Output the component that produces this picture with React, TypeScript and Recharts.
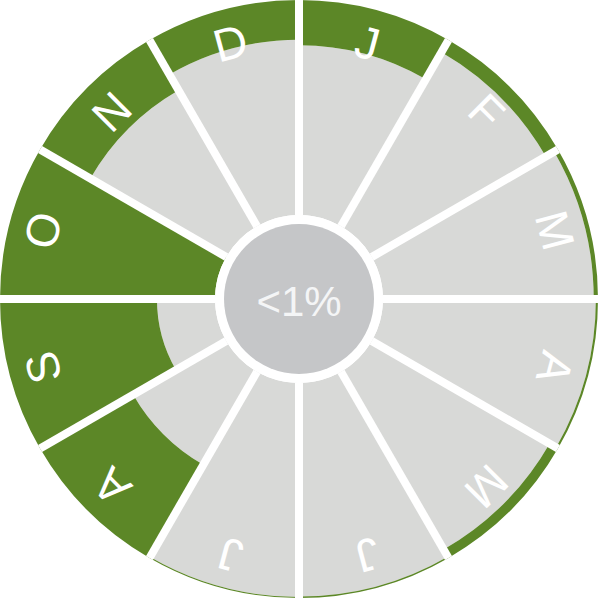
/**
 * Monthly radial chart — green depth per month on a grey wheel.
 */
import React from 'react';
import {
    RadialBarChart, RadialBar, PolarAngleAxis, PolarRadiusAxis, PolarGrid, LabelList,
} from 'recharts';

const monthKeys = ['Jan', 'Feb', 'Mar', 'Apr', 'May', 'Jun', 'Jul', 'Aug', 'Sep', 'Oct', 'Nov', 'Dec'];
const monthLabels = ['J', 'F', 'M', 'A', 'M', 'J', 'J', 'A', 'S', 'O', 'N', 'D'];
const greenShare = [21, 6.5, 2, 1, 4.5, 0.7, 0.5, 50, 73, 100, 27, 18.5];
const centerText = '<1%';

const data = monthKeys.map((key, i) => ({
    key,
    label: monthLabels[i],
    green: greenShare[i],
    rest: 100 - greenShare[i],
}));

const CX = 299;
const CY = 299;
const INNER = 84;
const OUTER = 299;
const RAD = Math.PI / 180;
const FONT = '"Liberation Sans", Arial, sans-serif';

// sector boundaries in polar degrees, clockwise from 12 o'clock
const boundaries = monthKeys.map((_, i) => 90 - i * 30);

const renderLabel = (props: any) => {
    const { viewBox, value, index } = props;
    let mid = 90 - 15 - index * 30;
    let cx = CX, cy = CY, outer = OUTER;
    if (viewBox && viewBox.cx != null && viewBox.startAngle != null) {
        mid = (viewBox.startAngle + viewBox.endAngle) / 2;
        cx = viewBox.cx; cy = viewBox.cy; outer = viewBox.outerRadius;
    }
    const r = outer - 34;
    const x = cx + r * Math.cos(-mid * RAD);
    const y = cy + r * Math.sin(-mid * RAD);
    return (
        <text
            key={`lbl-${index}`}
            x={x}
            y={y}
            textAnchor="middle"
            dominantBaseline="central"
            transform={`rotate(${90 - mid}, ${x}, ${y})`}
            fill="#ffffff"
            fontSize={46}
            fontFamily={FONT}
        >
            {value}
        </text>
    );
};

const App: React.FC = () => (
    <div style={{ position: 'absolute', left: 0, top: 0, width: 600, height: 600, background: '#fff' }}>
        <RadialBarChart
            width={600}
            height={600}
            cx={CX}
            cy={CY}
            innerRadius={INNER}
            outerRadius={OUTER}
            startAngle={60}
            endAngle={-300}
            layout="centric"
            data={data}
            barCategoryGap={0}
            barGap={0}
        >
            <PolarAngleAxis type="category" dataKey="key" tick={false} tickLine={false} axisLine={false} />
            <PolarRadiusAxis type="number" domain={[0, 100]} tick={false} axisLine={false} />
            <RadialBar dataKey="rest" stackId="a" fill="#d8d9d7" isAnimationActive={false} />
            <RadialBar dataKey="green" stackId="a" fill="#5c8727" isAnimationActive={false}>
                <LabelList dataKey="label" content={renderLabel} />
            </RadialBar>
            <PolarGrid
                gridType="circle"
                polarRadius={[INNER - 4]}
                polarAngles={boundaries}
                stroke="#ffffff"
                strokeWidth={8}
                zIndex={1000}
            />
            <circle cx={CX} cy={CY} r={75} fill="#c5c6c8" />
            <text
                x={CX}
                y={CY + 2}
                textAnchor="middle"
                dominantBaseline="central"
                fill="#f4f5f6"
                fontSize={42}
                fontFamily={FONT}
            >
                {centerText}
            </text>
        </RadialBarChart>
    </div>
);

export default App;
